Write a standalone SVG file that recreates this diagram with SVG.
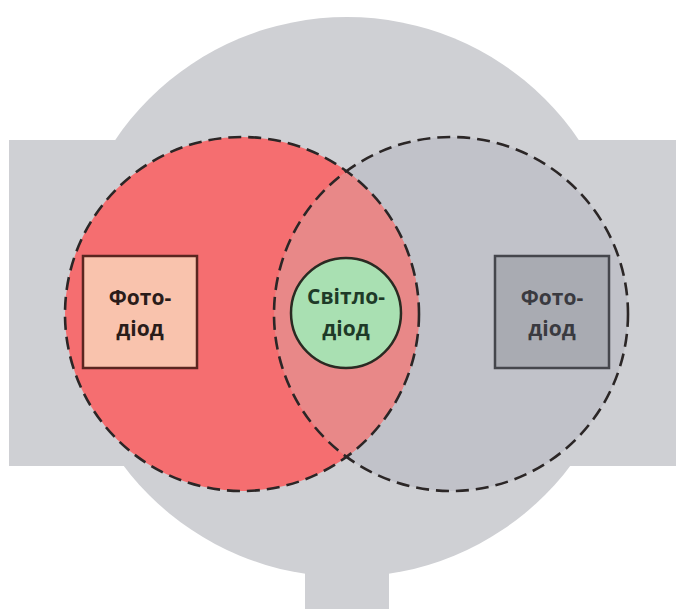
<svg xmlns="http://www.w3.org/2000/svg" width="676" height="609" viewBox="0 0 676 609">
  <style>
    .housing { fill: #cfd0d4; }
    .ring { fill: none; stroke: #2b2626; stroke-width: 2.6; stroke-dasharray: 13 7; }
    .label { font-family: "Open Sans", "Liberation Sans", Arial, sans-serif; font-weight: 700; font-size: 21px; text-anchor: middle; }
  </style>
  <defs>
    <clipPath id="leftZone">
      <circle cx="242" cy="314" r="177"/>
    </clipPath>
  </defs>

  <!-- sensor housing: round body, side band and stem -->
  <g id="housing">
    <circle class="housing" cx="347" cy="297" r="280"/>
    <rect class="housing" x="9" y="140" width="667" height="326"/>
    <rect class="housing" x="305" y="560" width="84" height="49"/>
  </g>

  <!-- illuminated zones -->
  <g id="zones">
    <circle cx="451" cy="314" r="177" fill="#c1c2c9"/>
    <circle cx="242" cy="314" r="177" fill="#f56e70"/>
    <circle cx="451" cy="314" r="177" fill="#e88888" clip-path="url(#leftZone)"/>
  </g>

  <!-- dashed zone outlines -->
  <g id="connectors">
    <circle class="ring" cx="242" cy="314" r="177"/>
    <circle class="ring" cx="451" cy="314" r="177"/>
  </g>

  <g id="photodiode-left">
    <rect x="83" y="256" width="114" height="112" fill="#f9c3ad" stroke="#5a2620" stroke-width="2.5"/>
    <text class="label" x="140" y="305" fill="#2a1c1a">Фото-</text>
    <text class="label" x="140" y="336" fill="#2a1c1a">діод</text>
  </g>

  <g id="led">
    <circle cx="346" cy="313" r="55" fill="#a9e0b2" stroke="#2a2a22" stroke-width="2.5"/>
    <text class="label" x="346" y="304" fill="#1e3a28">Світло-</text>
    <text class="label" x="346" y="336" fill="#1e3a28">діод</text>
  </g>

  <g id="photodiode-right">
    <rect x="495" y="256" width="114" height="112" fill="#a9abb2" stroke="#45464c" stroke-width="2.5"/>
    <text class="label" x="552" y="305" fill="#3a3a40">Фото-</text>
    <text class="label" x="552" y="336" fill="#3a3a40">діод</text>
  </g>
</svg>
